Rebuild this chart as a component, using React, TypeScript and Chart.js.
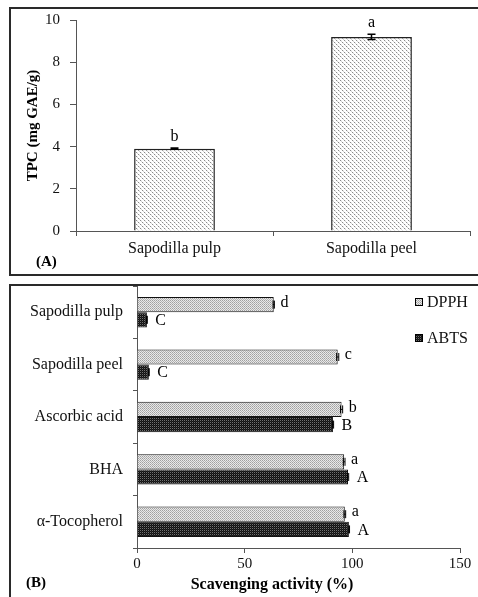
import React, { useEffect, useRef } from "react";
import { Chart, registerables } from "chart.js";
Chart.register(...registerables);

// ---- Panel A data ----
const tpcCategories = ["Sapodilla pulp", "Sapodilla peel"];
const tpcValues = [3.9, 9.2];
const tpcErrors = [0.03, 0.12];
const tpcLetters = ["b", "a"];
const tpcTicks = [0, 2, 4, 6, 8, 10];

// ---- Panel B data ----
const scavCategories = ["Sapodilla pulp", "Sapodilla peel", "Ascorbic acid", "BHA", "α-Tocopherol"];
const dpphValues = [63.5, 93.2, 95.0, 96.2, 96.5];
const abtsValues = [4.6, 5.5, 91.0, 98.0, 98.4];
const dpphErrors = [0.3, 0.5, 0.5, 0.4, 0.4];
const abtsErrors = [0.2, 0.2, 0.3, 0.3, 0.3];
const dpphLetters = ["d", "c", "b", "a", "a"];
const abtsLetters = ["C", "C", "B", "A", "A"];
const scavTicks = [0, 50, 100, 150];
const seriesNames = ["DPPH", "ABTS"];

const FONT = '"Liberation Serif", "Times New Roman", serif';

function makePattern(size: number, bg: string, dots: Array<[number, number, string]>) {
  const c = document.createElement("canvas");
  c.width = size;
  c.height = size;
  const x = c.getContext("2d")!;
  x.fillStyle = bg;
  x.fillRect(0, 0, size, size);
  dots.forEach(([dx, dy, col]) => {
    x.fillStyle = col;
    x.fillRect(dx, dy, 1, 1);
  });
  const ctx = document.createElement("canvas").getContext("2d")!;
  return ctx.createPattern(c, "repeat")!;
}

export default function App() {
  const refA = useRef<HTMLCanvasElement>(null);
  const refB = useRef<HTMLCanvasElement>(null);

  useEffect(() => {
    Chart.defaults.font.family = FONT;
    Chart.defaults.color = "#111";

    const patA = makePattern(4, "#ffffff", [
      [0, 0, "#8a8a8a"],
      [2, 2, "#8a8a8a"],
      [1, 1, "#d4d4d4"],
      [3, 3, "#d4d4d4"],
      [1, 0, "#eeeeee"],
      [3, 2, "#eeeeee"],
    ]);
    const patD = makePattern(2, "#e8e8e8", [
      [0, 0, "#a0a0a0"],
      [1, 1, "#b4b4b4"],
    ]);
    const patB = makePattern(2, "#111111", [
      [0, 0, "#707070"],
      [1, 1, "#262626"],
    ]);

    const annotA = {
      id: "annotA",
      afterDatasetsDraw(chart: any) {
        const ctx = chart.ctx;
        const meta = chart.getDatasetMeta(0);
        const yScale = chart.scales.y;
        ctx.save();
        meta.data.forEach((bar: any, i: number) => {
          const x = bar.x;
          const yTop = yScale.getPixelForValue(tpcValues[i] + tpcErrors[i]);
          const yBot = yScale.getPixelForValue(tpcValues[i] - tpcErrors[i]);
          ctx.strokeStyle = "#000";
          ctx.lineWidth = 1.5;
          ctx.beginPath();
          ctx.moveTo(x, yTop);
          ctx.lineTo(x, yBot);
          ctx.moveTo(x - 4, yTop);
          ctx.lineTo(x + 4, yTop);
          ctx.moveTo(x - 4, yBot);
          ctx.lineTo(x + 4, yBot);
          ctx.stroke();
          ctx.fillStyle = "#000";
          ctx.font = `16px ${FONT}`;
          ctx.textAlign = "center";
          ctx.textBaseline = "alphabetic";
          ctx.fillText(tpcLetters[i], x, yTop - 7);
        });
        ctx.font = `bold 15px ${FONT}`;
        ctx.textAlign = "left";
        ctx.textBaseline = "middle";
        ctx.fillText("(A)", 36, 262);
        ctx.restore();
      },
    };

    const chartA = new Chart(refA.current!, {
      type: "bar",
      data: {
        labels: tpcCategories,
        datasets: [
          {
            data: tpcValues,
            backgroundColor: patA,
            borderColor: "#222",
            borderWidth: 1.5,
            categoryPercentage: 0.41,
            barPercentage: 1,
          },
        ],
      },
      options: {
        responsive: false,
        animation: false,
        layout: { padding: { left: 0, right: 8, top: 20, bottom: 0 } },
        plugins: { legend: { display: false }, tooltip: { enabled: false } },
        scales: {
          x: {
            grid: { offset: true, drawOnChartArea: false, drawTicks: true, tickLength: 5, color: "#555" },
            border: { color: "#555" },
            ticks: { font: { size: 16 }, color: "#111", padding: 3 },
            afterFit: (s: any) => {
              s.height = 49;
              s.paddingLeft = 0;
              s.paddingRight = 0;
            },
          },
          y: {
            min: 0,
            max: 10,
            afterBuildTicks: (s: any) => {
              s.ticks = tpcTicks.map((v) => ({ value: v }));
            },
            ticks: { font: { size: 15 }, color: "#111", padding: 10 },
            grid: { drawOnChartArea: false, drawTicks: true, tickLength: 6, color: "#555" },
            border: { color: "#555" },
            title: {
              display: true,
              text: "TPC (mg GAE/g)",
              font: { size: 15, weight: "bold" },
              color: "#000",
              padding: { top: 24, bottom: 0 },
            },
            afterFit: (s: any) => {
              s.width = 76;
              s.paddingTop = 0;
              s.paddingBottom = 0;
            },
          },
        },
      } as any,
      plugins: [annotA],
    });

    const annotB = {
      id: "annotB",
      afterDatasetsDraw(chart: any) {
        const ctx = chart.ctx;
        const xScale = chart.scales.x;
        ctx.save();
        const sets = [
          { vals: dpphValues, errs: dpphErrors, letters: dpphLetters, dy: -2, off: 6 },
          { vals: abtsValues, errs: abtsErrors, letters: abtsLetters, dy: 1, off: 8 },
        ];
        sets.forEach((s, di) => {
          const meta = chart.getDatasetMeta(di);
          meta.data.forEach((bar: any, i: number) => {
            const y = bar.y;
            const xL = xScale.getPixelForValue(s.vals[i] - s.errs[i]);
            const xR = xScale.getPixelForValue(s.vals[i] + s.errs[i]);
            ctx.strokeStyle = "#000";
            ctx.lineWidth = 1;
            ctx.beginPath();
            ctx.moveTo(xL, y);
            ctx.lineTo(xR, y);
            ctx.moveTo(xL, y - 4);
            ctx.lineTo(xL, y + 4);
            ctx.moveTo(xR, y - 4);
            ctx.lineTo(xR, y + 4);
            ctx.stroke();
            ctx.fillStyle = "#000";
            ctx.font = `16px ${FONT}`;
            ctx.textAlign = "left";
            ctx.textBaseline = "middle";
            ctx.fillText(s.letters[i], xR + s.off, y + s.dy);
          });
        });
        // legend
        const pats = [patD, patB];
        const legY = [22, 58];
        seriesNames.forEach((name, i) => {
          ctx.fillStyle = pats[i];
          ctx.fillRect(415, legY[i] - 4, 8, 8);
          ctx.strokeStyle = "#000";
          ctx.lineWidth = 1;
          ctx.strokeRect(415.5, legY[i] - 3.5, 7, 7);
          ctx.fillStyle = "#111";
          ctx.font = `16px ${FONT}`;
          ctx.textAlign = "left";
          ctx.textBaseline = "middle";
          ctx.fillText(name, 427, legY[i] + 1);
        });
        ctx.font = `bold 16px ${FONT}`;
        ctx.fillStyle = "#000";
        ctx.textAlign = "center";
        ctx.textBaseline = "middle";
        ctx.fillText("Scavenging activity (%)", 272, 305);
        ctx.textAlign = "left";
        ctx.font = `bold 15px ${FONT}`;
        ctx.fillText("(B)", 26, 303);
        ctx.restore();
      },
    };

    const chartB = new Chart(refB.current!, {
      type: "bar",
      data: {
        labels: scavCategories,
        datasets: [
          {
            label: seriesNames[0],
            data: dpphValues,
            backgroundColor: patD,
            borderColor: "#111",
            borderWidth: 1,
            categoryPercentage: 0.58,
            barPercentage: 1,
          },
          {
            label: seriesNames[1],
            data: abtsValues,
            backgroundColor: patB,
            borderColor: "#111",
            borderWidth: 1,
            categoryPercentage: 0.58,
            barPercentage: 1,
          },
        ],
      },
      options: {
        indexAxis: "y",
        responsive: false,
        animation: false,
        layout: { padding: { left: 0, right: 18, top: 6, bottom: 0 } },
        plugins: { legend: { display: false }, tooltip: { enabled: false } },
        scales: {
          x: {
            min: 0,
            max: 150,
            afterBuildTicks: (s: any) => {
              s.ticks = scavTicks.map((v) => ({ value: v }));
            },
            ticks: { font: { size: 15 }, color: "#111", padding: 2 },
            grid: { drawOnChartArea: false, drawTicks: true, tickLength: 5, color: "#555" },
            border: { color: "#555" },
            afterFit: (s: any) => {
              s.height = 49;
              s.paddingLeft = 0;
              s.paddingRight = 0;
            },
          },
          y: {
            grid: { offset: true, drawOnChartArea: false, drawTicks: true, tickLength: 4, color: "#555" },
            border: { color: "#555" },
            ticks: { font: { size: 16 }, color: "#111", padding: 10 },
            afterFit: (s: any) => {
              s.width = 137;
              s.paddingTop = 0;
              s.paddingBottom = 0;
            },
          },
        },
      } as any,
      plugins: [annotB],
    });

    return () => {
      chartA.destroy();
      chartB.destroy();
    };
  }, []);

  return (
    <div
      style={{
        position: "fixed",
        left: 0,
        top: 0,
        width: 478,
        height: 597,
        overflow: "hidden",
        background: "#fff",
      }}
    >
      <div
        style={{
          position: "absolute",
          left: 9,
          top: 7,
          width: 520,
          height: 269,
          boxSizing: "border-box",
          border: "2px solid #2a2a2a",
          borderRight: "none",
        }}
      />
      <div
        style={{
          position: "absolute",
          left: 9,
          top: 284,
          width: 520,
          height: 400,
          boxSizing: "border-box",
          border: "2px solid #2a2a2a",
          borderRight: "none",
        }}
      />
      <canvas
        ref={refA}
        width={478}
        height={280}
        style={{ position: "absolute", left: 0, top: 0, width: 478, height: 280 }}
      />
      <canvas
        ref={refB}
        width={478}
        height={317}
        style={{ position: "absolute", left: 0, top: 280, width: 478, height: 317 }}
      />
    </div>
  );
}
